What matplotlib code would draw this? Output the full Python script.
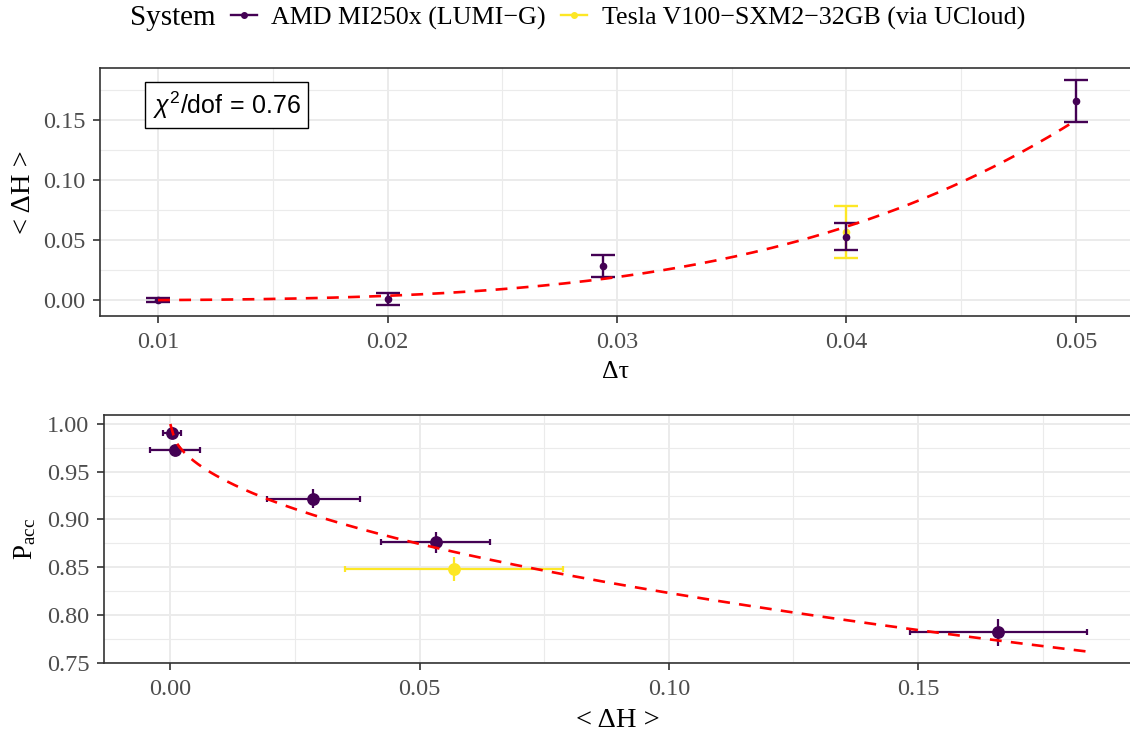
import numpy as np
import matplotlib
matplotlib.use('Agg')
import matplotlib.pyplot as plt
from matplotlib.lines import Line2D
from math import erfc, sqrt

# step sizes (trajectory length 1 -> 100, 50, 34, 25, 20 steps)
dtau_amd = [0.01, 0.02, 0.0294, 0.04, 0.05]
dtau_tesla = [0.04]

# <dH> with errors
dH_amd = [0.0004, 0.0009, 0.0287, 0.0532, 0.1661]
dH_err_amd = [0.0018, 0.0050, 0.0093, 0.0110, 0.0178]
dH_tesla = [0.0569]
dH_err_tesla = [0.0219]

# acceptance rates
pacc_amd = [0.9902, 0.9724, 0.9218, 0.8763, 0.7820]
pacc_err_amd = [0.002, 0.003, 0.0097, 0.011, 0.014]
pacc_tesla = [0.8485]
pacc_err_tesla = [0.0127]

# fit <dH> = a * dtau^4
fit_a = 24000.0
chi2_dof = 0.76

purple = '#440154'
yellow = '#FDE725'
grid_col = '#EBEBEB'
frame_col = '#333333'

plt.rcParams['font.family'] = ['Liberation Serif', 'DejaVu Serif']
plt.rcParams['mathtext.fontset'] = 'custom'
plt.rcParams['mathtext.rm'] = 'Liberation Sans'
plt.rcParams['mathtext.it'] = 'Liberation Sans:italic'

W, H = 1130, 734
fig = plt.figure(figsize=(W / 100, H / 100), dpi=100)

def px_axes(l, t, r, b):
    return fig.add_axes([l / W, 1 - b / H, (r - l) / W, (b - t) / H])

def style(ax, xmaj, xmin, ymaj, ymin):
    ax.set_xticks(xmaj)
    ax.set_xticks(xmin, minor=True)
    ax.set_yticks(ymaj)
    ax.set_yticks(ymin, minor=True)
    ax.grid(which='major', color=grid_col, lw=1.4, zorder=0)
    ax.grid(which='minor', color=grid_col, lw=0.8, zorder=0)
    ax.set_axisbelow(True)
    for s in ax.spines.values():
        s.set_color(frame_col)
        s.set_linewidth(1.2)
    ax.tick_params(which='major', direction='out', length=5, width=1.2,
                   color=frame_col, labelcolor='#4D4D4D', labelsize=17.5)
    ax.tick_params(axis='x', which='major', pad=6.5)
    ax.tick_params(axis='y', which='major', pad=5.5)
    ax.tick_params(which='minor', length=0)

# ---- top panel: <dH> vs dtau ----
ax1 = px_axes(100, 68, 1131, 316)
ax1.set_xlim(0.00747, 0.0524)
ax1.set_ylim(-0.013, 0.1936)
style(ax1, [0.01, 0.02, 0.03, 0.04, 0.05], [0.015, 0.025, 0.035, 0.045],
      [0.0, 0.05, 0.10, 0.15], [0.025, 0.075, 0.125, 0.175])
ax1.set_xticklabels(['0.01', '0.02', '0.03', '0.04', '0.05'])
ax1.set_yticklabels(['0.00', '0.05', '0.10', '0.15'])

ax1.errorbar(dtau_tesla, dH_tesla, yerr=dH_err_tesla, fmt='o', color=yellow,
             ms=4.5, elinewidth=1.7, capsize=8.5, capthick=1.7, zorder=3)
ax1.errorbar(dtau_amd, dH_amd, yerr=dH_err_amd, fmt='o', color=purple,
             ms=4.5, elinewidth=1.7, capsize=8.5, capthick=1.7, zorder=4)

xt = np.linspace(min(dtau_amd), max(dtau_amd), 200)
ax1.plot(xt, fit_a * xt ** 4, color='red', lw=1.9, ls=(0, (4.5, 3.5)), zorder=5)

ax1.text(0.0130, 0.1628, r'$\chi^2/\mathrm{dof}\,=\,%.2f$' % chi2_dof,
         fontsize=18, ha='center', va='center',
         bbox=dict(boxstyle='square,pad=0.3', fc='white', ec='black', lw=1.0),
         zorder=6)

ax1.set_xlabel('Δτ', fontsize=18.5, labelpad=6)
ax1.set_ylabel('< ΔH >', fontsize=20.5, labelpad=5)

# ---- bottom panel: P_acc vs <dH> ----
ax2 = px_axes(104, 415, 1131, 663)
ax2.set_xlim(-0.0133, 0.1927)
ax2.set_ylim(0.7497, 1.0094)
style(ax2, [0.0, 0.05, 0.10, 0.15], [0.025, 0.075, 0.125, 0.175],
      [0.75, 0.80, 0.85, 0.90, 0.95, 1.00],
      [0.775, 0.825, 0.875, 0.925, 0.975])
ax2.set_xticklabels(['0.00', '0.05', '0.10', '0.15'])
ax2.set_yticklabels(['0.75', '0.80', '0.85', '0.90', '0.95', '1.00'])

for xs, ys, xe, ye, col, z in [(dH_amd, pacc_amd, dH_err_amd, pacc_err_amd, purple, 4),
                                (dH_tesla, pacc_tesla, dH_err_tesla, pacc_err_tesla, yellow, 3)]:
    ax2.errorbar(xs, ys, xerr=xe, fmt='none', ecolor=col, elinewidth=1.6,
                 capsize=2.2, capthick=1.6, zorder=z)
    ax2.errorbar(xs, ys, yerr=ye, fmt='none', ecolor=col, elinewidth=1.6,
                 capsize=0, zorder=z)
    ax2.plot(xs, ys, 'o', color=col, ms=8.2, zorder=z)

xp = np.linspace(0, max(np.array(dH_amd) + np.array(dH_err_amd)), 200)
ax2.plot(xp, [erfc(sqrt(v) / 2) for v in xp], color='red', lw=1.9,
         ls=(0, (4.5, 3.5)), zorder=6)

ax2.set_xlabel('< ΔH >', fontsize=20.5, labelpad=6)
ax2.set_ylabel(r'$\mathregular{P_{acc}}$', fontsize=19.5, labelpad=6)

# ---- legend on top ----
fig.text(130 / W, 1 - 18 / H, 'System', fontsize=21, ha='left', va='center')
handles = [Line2D([], [], color=purple, lw=1.7, marker='o', ms=4),
           Line2D([], [], color=yellow, lw=1.7, marker='o', ms=4)]
fig.legend(handles, ['AMD MI250x (LUMI−G)', 'Tesla V100−SXM2−32GB (via UCloud)'],
           loc='center left', bbox_to_anchor=(231 / W, 1 - 18 / H), ncol=2,
           frameon=False, fontsize=18.7, handlelength=1.0, handletextpad=0.55,
           columnspacing=0.6, borderpad=0, borderaxespad=0)

fig.savefig('out.png', dpi=100)
